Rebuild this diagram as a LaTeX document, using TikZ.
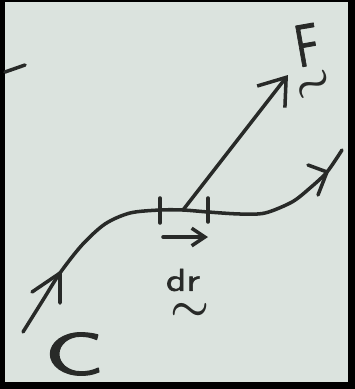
\documentclass[tikz,border=0pt]{standalone}
\usepackage{amsmath}
\usepackage{fontspec}
\newfontface\handface{lmsans10-regular.otf}[FakeBold=1.6]
\usetikzlibrary{arrows.meta, positioning, calc}
\definecolor{ink}{RGB}{40,42,40}
\definecolor{paper}{RGB}{219,227,222}

\begin{document}
\begin{tikzpicture}[x=0.02cm, y=-0.02cm, line width=2pt, line cap=round, line join=round, ink,
    bigletter/.style={font=\handface\fontsize{34}{34}\selectfont, inner sep=0pt},
    smallletter/.style={font=\handface\fontsize{18}{18}\selectfont, inner sep=0pt},
    squiggle/.style={font=\fontsize{26}{26}\selectfont, inner sep=0pt, anchor=base, text height=0.42em, text depth=0pt}]
        % Frame and paper
        \fill[black] (0,0) rectangle (355,389);
        \fill[paper] (5,2) rectangle (348,382);
        \useasboundingbox (0,0) rectangle (355,389);

        % Points on the path
        \coordinate (cstart) at (23,332);
        \coordinate (carrow) at (60,273);
        \coordinate (tick1) at (160,210);
        \coordinate (fbase) at (183,210);
        \coordinate (tick2) at (208,212);
        \coordinate (earrow) at (327,172);
        \coordinate (cend) at (342,150);
        \coordinate (ftip) at (288,75);
        \coordinate (drtail) at (163,237);
        \coordinate (drhead) at (208,237);

        % Path C
        \draw plot[smooth, tension=0.5] coordinates {(cstart) (43,300) (carrow) (82,245) (105,224) (130,213)
            (tick1) (fbase) (tick2) (240,214) (265,213) (292,202) (310,188) (earrow) (cend)};

        % Direction marks on the path
        \draw ($(carrow)+(-28,19)$) -- (carrow) -- ($(carrow)+(0,30)$);
        \draw ($(earrow)+(-19,-7)$) -- (earrow) -- ($(earrow)+(-9,23)$);

        % Element ends
        \draw ($(tick1)+(0,-12)$) -- ($(tick1)+(0,13)$);
        \draw ($(tick2)+(0,-14)$) -- ($(tick2)+(0,10)$);

        % Vectors
        \draw[-{Straight Barb[length=14pt, width=20pt]}] (fbase) -- (ftip);
        \draw[-{Straight Barb[length=7.5pt, width=10pt]}] (drtail) -- (drhead);

        % Labels
        \node[bigletter] (Cname) at (74,354) {\scalebox{1.55}[1]{C}};
        \node[bigletter, rotate=10] (Fname) at (307,45) {\scalebox{0.7}[1]{F}};
        \node[squiggle, rotate=35] (Ftilde) at (320,93) {$\boldsymbol{\sim}$};
        \node[smallletter] (drname) at (183,280) {\scalebox{1.25}[1]{dr}};
        \node[squiggle] (drtilde) at (190,320) {$\boldsymbol{\sim}$};

        % Stray mark
        \draw (5,72) -- (25,65);
    \end{tikzpicture}
\end{document}
